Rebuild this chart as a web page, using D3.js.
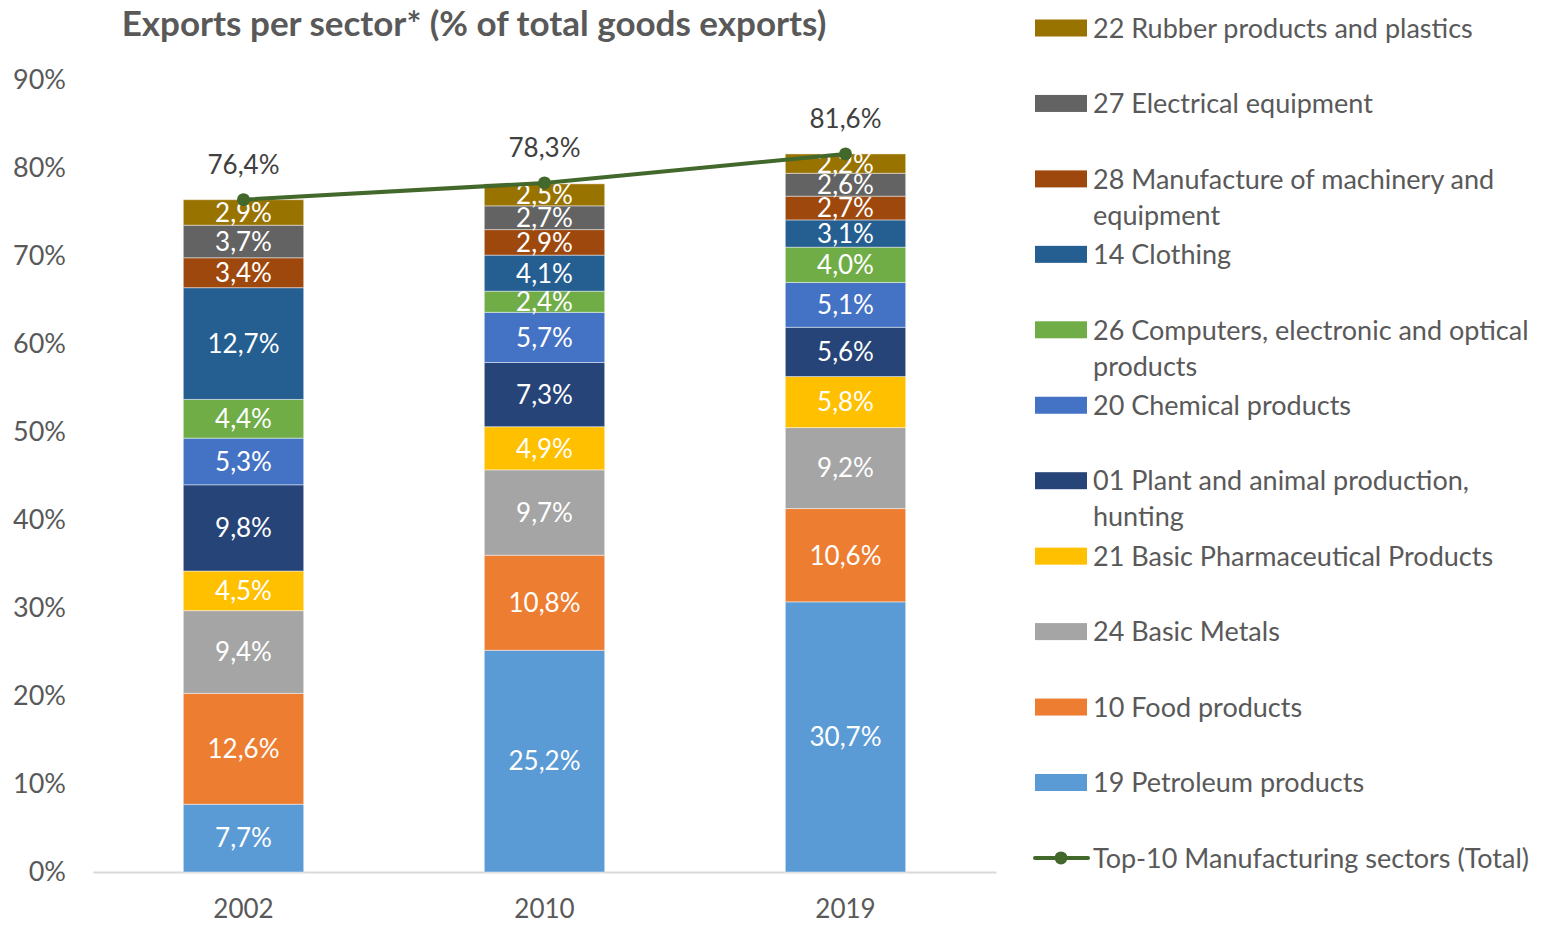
<!DOCTYPE html>
<html><head><meta charset="utf-8">
<script src="https://cdn.jsdelivr.net/npm/d3@7"></script>
<style>body{margin:0;background:#fff}svg{display:block}</style>
</head><body>
<svg id="c" width="1542" height="926"></svg>
<script>
const years = ["2002", "2010", "2019"];
// bottom to top stacking order
const sectors = [
  "19 Petroleum products",
  "10 Food products",
  "24 Basic Metals",
  "21 Basic Pharmaceutical Products",
  "01 Plant and animal production, hunting",
  "20 Chemical products",
  "26 Computers, electronic and optical products",
  "14 Clothing",
  "28 Manufacture of machinery and equipment",
  "27 Electrical equipment",
  "22 Rubber products and plastics"
];
const petroleum   = [7.7, 25.2, 30.7];
const food        = [12.6, 10.8, 10.6];
const metals      = [9.4, 9.7, 9.2];
const pharma      = [4.5, 4.9, 5.8];
const plant       = [9.8, 7.3, 5.6];
const chemical    = [5.3, 5.7, 5.1];
const computers   = [4.4, 2.4, 4.0];
const clothing    = [12.7, 4.1, 3.1];
const machinery   = [3.4, 2.9, 2.7];
const electrical  = [3.7, 2.7, 2.6];
const rubber      = [2.9, 2.5, 2.2];
const totalName = "Top-10 Manufacturing sectors (Total)";
const totals = [76.4, 78.3, 81.6];
const yTicks = [0, 10, 20, 30, 40, 50, 60, 70, 80, 90];
const title = "Exports per sector* (% of total goods exports)";

const seriesValues = [petroleum, food, metals, pharma, plant, chemical, computers, clothing, machinery, electrical, rubber];
const colors = ["#5B9BD5", "#ED7D31", "#A5A5A5", "#FFC000", "#264478", "#4472C4", "#70AD47", "#255E91", "#9E480E", "#636363", "#997300"];
const lineColor = "#43682B";
const font = "Lato, 'Open Sans', sans-serif";
const fmt = v => v.toFixed(1).replace(".", ",") + "%";

const svg = d3.select("#c");
const x = d3.scaleBand().domain(years).range([93, 996]).padding(0);
const y = d3.scaleLinear().domain([0, 90]).range([872, 80]);
const barW = x.bandwidth() * 0.4;

// title
svg.append("text").attr("x", 474).attr("y", 36).attr("text-anchor", "middle")
  .attr("font-family", font).attr("font-weight", "bold").attr("font-size", 35)
  .attr("fill", "#595959").text(title);

// y axis
const yAxis = d3.axisLeft(y).tickValues(yTicks).tickFormat(d => d + "%").tickSize(0).tickPadding(0);
const ya = svg.append("g").attr("transform", "translate(66,0)").call(yAxis);
ya.select(".domain").remove();
ya.selectAll("text").attr("font-family", font).attr("font-size", 27).attr("fill", "#595959");

// x axis
const xAxis = d3.axisBottom(x).tickSize(0).tickPadding(28);
const xa = svg.append("g").attr("transform", "translate(0,872)").call(xAxis);
xa.select(".domain").attr("stroke", "#D9D9D9").attr("stroke-width", 2);
xa.selectAll("text").attr("font-family", font).attr("font-size", 26).attr("fill", "#595959");

// stacked data
const rows = years.map((yr, i) => {
  const r = { year: yr };
  sectors.forEach((s, k) => r[s] = seriesValues[k][i]);
  return r;
});
const stack = d3.stack().keys(sectors)(rows);

const gBars = svg.append("g");
stack.forEach((layer, k) => {
  const g = gBars.append("g").attr("fill", colors[k]);
  g.selectAll("rect").data(layer).join("rect")
    .attr("x", d => x(d.data.year) + x.bandwidth() / 2 - barW / 2)
    .attr("width", barW)
    .attr("y", d => y(d[1]))
    .attr("height", d => y(d[0]) - y(d[1]))
    .attr("stroke", "#ffffff").attr("stroke-opacity", 0.45).attr("stroke-width", 1);
});
stack.forEach((layer, k) => {
  gBars.append("g").selectAll("text").data(layer).join("text")
    .attr("x", d => x(d.data.year) + x.bandwidth() / 2)
    .attr("y", d => (y(d[0]) + y(d[1])) / 2)
    .attr("dy", "0.36em").attr("text-anchor", "middle")
    .attr("font-family", font).attr("font-size", 26).attr("fill", "#fff")
    .text(d => fmt(d[1] - d[0]));
});

// total line
const line = d3.line().x((d, i) => x(years[i]) + x.bandwidth() / 2).y(d => y(d));
svg.append("path").datum(totals).attr("d", line).attr("fill", "none")
  .attr("stroke", lineColor).attr("stroke-width", 4).attr("stroke-linecap", "round");
svg.selectAll("circle.tot").data(totals).join("circle").attr("class", "tot")
  .attr("cx", (d, i) => x(years[i]) + x.bandwidth() / 2).attr("cy", d => y(d))
  .attr("r", 6.5).attr("fill", lineColor);
svg.selectAll("text.tot").data(totals).join("text").attr("class", "tot")
  .attr("x", (d, i) => x(years[i]) + x.bandwidth() / 2).attr("y", d => y(d) - 35)
  .attr("dy", "0.36em").attr("text-anchor", "middle")
  .attr("font-family", font).attr("font-size", 26).attr("fill", "#404040")
  .text(d => fmt(d));

// legend (top to bottom = reverse stacking order), then total line
const legendItems = sectors.map((s, k) => ({ name: s, color: colors[k], type: "bar" })).reverse();
legendItems.push({ name: totalName, color: lineColor, type: "line" });
const lg = svg.append("g");
const step = 75.45;
legendItems.forEach((it, i) => {
  const cy = 28 + i * step;
  const g = lg.append("g");
  if (it.type === "bar") {
    g.append("rect").attr("x", 1035).attr("y", cy - 8.5).attr("width", 52).attr("height", 17).attr("fill", it.color);
  } else {
    g.append("line").attr("x1", 1035).attr("x2", 1088).attr("y1", cy).attr("y2", cy)
      .attr("stroke", it.color).attr("stroke-width", 4).attr("stroke-linecap", "round");
    g.append("circle").attr("cx", 1061).attr("cy", cy).attr("r", 6.5).attr("fill", it.color);
  }
  const t = g.append("text").attr("x", 1093).attr("y", cy)
    .attr("font-family", font).attr("font-size", 27).attr("fill", "#595959");
  const words = it.name.split(" ");
  let lineWords = [];
  let ts = t.append("tspan").attr("x", 1093).attr("dy", "0.36em");
  const maxW = 448;
  words.forEach(w => {
    lineWords.push(w);
    ts.text(lineWords.join(" "));
    if (ts.node().getComputedTextLength() > maxW && lineWords.length > 1) {
      lineWords.pop();
      ts.text(lineWords.join(" "));
      lineWords = [w];
      ts = t.append("tspan").attr("x", 1093).attr("dy", 36).text(w);
    }
  });
});
</script>
</body></html>
